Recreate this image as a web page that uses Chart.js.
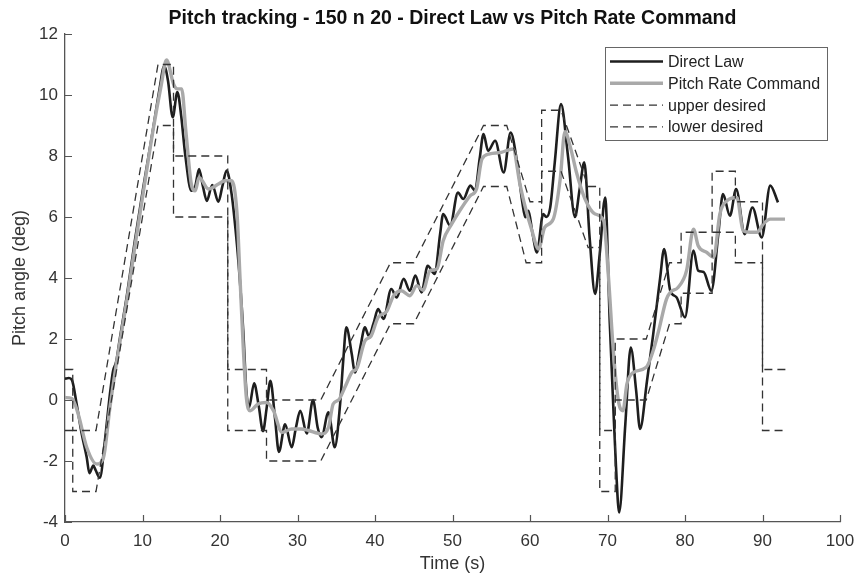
<!DOCTYPE html>
<html>
<head>
<meta charset="utf-8">
<script src="https://cdn.jsdelivr.net/npm/chart.js@4.4.1/dist/chart.umd.min.js"></script>
<style>
html,body{margin:0;padding:0;background:#fff;}
#wrap{width:855px;height:577px;}
</style>
</head>
<body>
<div id="wrap"><canvas id="c" width="855" height="577"></canvas></div>
<script>
// ---- data ----
const dlTime = [0,0.5,0.9,1.5,2.15,2.8,3.15,3.65,3.95,4.5,
  5.15,5.8,6.2,6.6,7.1,8.0,9.0,10.1,11.4,12.2,
  12.8,13.3,13.9,14.5,15.0,15.5,16.3,16.8,17.3,17.8,
  18.3,19.0,19.8,20.3,20.85,21.5,22.0,22.4,23.0,23.4,
  23.75,24.4,25.0,25.55,26.0,26.5,27.1,27.6,28.4,29.25,
  29.8,30.35,31.2,32.0,32.6,33.1,34.0,34.8,35.5,35.9,
  36.3,37.0,37.4,38.1,38.7,39.2,39.8,40.4,41.1,42.1,
  42.8,43.7,44.5,45.2,46.0,46.8,47.7,48.4,48.8,49.7,
  50.7,51.4,52.3,52.9,53.5,54.0,54.6,55.5,56.6,57.5,
  58.3,59.0,59.4,59.8,60.3,60.9,61.7,62.1,62.6,63.2,
  64.0,64.9,65.8,66.4,67.0,67.7,68.4,69.0,69.7,
  70.3,70.75,71.1,71.5,72.3,73.0,73.7,74.2,75.1,75.9,
  76.8,77.3,78.1,78.9,80.0,81.1,81.7,82.4,83.4,84.3,
  84.9,85.8,86.6,87.7,88.7,89.9,91.0,92.0];
const dlPitch = [0.7,0.72,0.65,-0.13,-1.1,-1.88,-2.4,-2.15,-2.3,-2.55,
  -1.33,0.2,0.95,1.25,2.05,3.45,5.2,6.97,8.94,10.2,
  10.95,10.45,9.27,10.1,9.3,8.07,6.86,7.0,7.57,7.0,
  6.53,7.05,6.5,7.0,7.52,6.75,5.6,4.46,2.27,0.3,
  -0.25,0.55,-0.2,-1.02,-0.3,0.63,-0.6,-1.7,-0.8,-1.55,
  -0.9,-0.35,-1.1,0.0,-0.9,-1.22,-0.4,-1.55,-0.13,1.29,
  2.38,1.51,0.9,1.72,2.38,2.1,2.5,2.98,2.66,3.64,
  3.36,3.97,3.58,4.08,3.53,4.4,4.13,5.44,6.1,5.71,
  6.8,6.59,7.03,6.86,7.9,8.72,8.17,8.5,7.46,8.77,
  7.85,6.5,5.99,6.2,5.5,4.84,6.1,6.0,6.3,7.8,
  9.7,8.0,6.0,6.9,7.79,5.3,3.48,4.8,6.64,
  2.49,-0.24,-2.2,-3.69,-0.79,1.72,0.3,-0.95,0.63,2.16,
  4.02,4.95,3.58,3.37,2.71,4.9,4.24,4.2,3.58,5.44,
  6.75,6.04,6.92,5.44,6.31,5.33,7.03,6.48];

const prcTime = [0,0.9,1.7,2.8,4.1,4.95,5.8,6.7,8.0,9.0,
  10.1,11.4,12.4,13.1,14.0,14.5,15.05,15.6,16.3,16.8,
  17.3,18.5,19.8,20.6,21.5,22.2,22.6,23.0,23.4,23.9,
  24.9,26.0,26.9,28.0,29.25,30.5,31.4,33.1,34.0,34.6,
  35.3,36.1,37.0,37.7,38.7,39.5,40.4,41.5,42.4,43.4,
  44.5,45.4,46.2,47.1,48.0,48.8,49.9,51.2,52.3,53.1,
  53.8,54.8,56.3,57.8,58.7,59.4,60.2,61.1,61.9,63.0,
  63.9,64.5,65.2,66.0,67.1,68.4,69.5,70.1,70.75,71.4,
  72.0,72.5,73.3,75.0,75.9,76.6,77.6,78.1,79.1,80.2,
  81.1,81.7,82.8,83.7,84.5,85.4,86.7,87.5,88.4,89.3,
  90.1,91.0,92.9];
const prcPitch = [0.08,0.05,-0.46,-1.55,-2.1,-1.9,-0.24,1.3,3.3,5.0,
  6.8,8.9,10.3,11.15,10.36,10.2,10.2,8.8,7.08,6.86,
  7.3,6.92,7.08,7.19,7.19,6.1,3.91,1.72,0.08,-0.35,
  -0.13,-0.08,-0.35,-1.06,-0.95,-0.95,-1.0,-1.11,-0.9,-0.13,
  0.0,0.41,0.9,1.06,1.94,2.1,2.71,2.9,3.42,3.58,
  3.42,3.75,3.6,4.24,4.3,5.22,5.77,6.31,6.7,6.92,
  7.9,8.07,8.12,8.23,7.08,6.31,5.6,4.95,5.66,5.93,
  7.25,8.8,8.3,7.46,6.59,6.1,5.88,4.13,1.62,-0.02,
  -0.35,0.52,0.9,1.07,1.62,2.27,3.3,3.53,3.69,4.24,
  5.6,5.06,4.84,4.68,6.1,6.53,6.64,5.55,5.5,5.5,
  5.77,5.93,5.93];

const upperTime  = [0,1,1,4,12,14,14,21,21,26,26,33,42,45,54,57,60,61.5,61.5,64,67.5,69,69,71,71,75,78,79.5,79.5,83.5,83.5,86.5,86.5,90,90,93];
const upperPitch = [1,1,-1,-1,11,11,8,8,1,1,0,0,4.5,4.5,9,9,6.5,6.5,9.5,9.5,7,7,-1,-1,2,2,4.5,4.5,5.5,5.5,7.5,7.5,6.5,6.5,1,1];
const lowerTime  = [0,1,1,4,12,14,14,21,21,26,26,33,42,45,54,57,59.5,61.5,61.5,64,67.5,69,69,71,71,75,78,79.5,79.5,83.5,83.5,86.5,86.5,90,90,93];
const lowerPitch = [-1,-1,-3,-3,9,9,6,6,-1,-1,-2,-2,2.5,2.5,7,7,4.5,4.5,7.5,7.5,5,5,-3,-3,0,0,2.5,2.5,3.5,3.5,5.5,5.5,4.5,4.5,-1,-1];

const xTickValues = [0,10,20,30,40,50,60,70,80,90,100];
const yTickValues = [-4,-2,0,2,4,6,8,10,12];

const seriesNames = ['Direct Law','Pitch Rate Command','upper desired','lower desired'];
const titleText = 'Pitch tracking - 150 n 20 - Direct Law vs Pitch Rate Command';

// ---- build ----
const pts = (xs, ys) => xs.map((x, i) => ({x: x, y: ys[i]}));
const FONT = '"Liberation Sans", Arial, Helvetica, sans-serif';
Chart.defaults.font.family = FONT;

const inwardTicks = {
  id: 'inwardTicks',
  afterDraw(chart) {
    const {ctx, chartArea} = chart;
    const xs = chart.scales.x, ys = chart.scales.y;
    ctx.save();
    ctx.strokeStyle = '#555';
    ctx.lineWidth = 1.2;
    ctx.beginPath();
    xTickValues.forEach(v => {
      const p = Math.round(xs.getPixelForValue(v)) + 0.5;
      ctx.moveTo(p, chartArea.bottom);
      ctx.lineTo(p, chartArea.bottom - 7);
    });
    yTickValues.forEach(v => {
      const p = Math.round(ys.getPixelForValue(v)) + 0.5;
      ctx.moveTo(chartArea.left, p);
      ctx.lineTo(chartArea.left + 7, p);
    });
    ctx.stroke();
    ctx.restore();
  }
};

const boxLegend = {
  id: 'boxLegend',
  afterDraw(chart) {
    const {ctx, chartArea} = chart;
    const w = 222, h = 93;
    const x0 = chartArea.right - 235, y0 = chartArea.top + 13;
    ctx.save();
    ctx.fillStyle = '#fff';
    ctx.fillRect(x0, y0, w, h);
    ctx.strokeStyle = '#666';
    ctx.lineWidth = 1;
    ctx.strokeRect(Math.round(x0) + 0.5, Math.round(y0) + 0.5, w, h);
    chart.data.datasets.forEach((ds, i) => {
      const y = y0 + 14.5 + i * 21.8;
      ctx.beginPath();
      ctx.setLineDash(ds.borderDash || []);
      ctx.strokeStyle = ds.borderColor;
      ctx.lineWidth = ds.borderWidth;
      ctx.moveTo(x0 + 5, y);
      ctx.lineTo(x0 + 58, y);
      ctx.stroke();
      ctx.setLineDash([]);
      ctx.fillStyle = '#222';
      ctx.font = '16px ' + FONT;
      ctx.textBaseline = 'middle';
      ctx.textAlign = 'left';
      ctx.fillText(ds.label, x0 + 63, y + 1);
    });
    ctx.restore();
  }
};

new Chart(document.getElementById('c'), {
  type: 'scatter',
  data: {
    datasets: [
      {label: seriesNames[0], data: pts(dlTime, dlPitch), showLine: true, borderColor: '#1e1e1e', borderWidth: 2.6, pointRadius: 0, cubicInterpolationMode: 'monotone', order: 4},
      {label: seriesNames[1], data: pts(prcTime, prcPitch), showLine: true, borderColor: '#a9a9a9', borderWidth: 3.4, pointRadius: 0, cubicInterpolationMode: 'monotone', order: 3},
      {label: seriesNames[2], data: pts(upperTime, upperPitch), showLine: true, borderColor: '#333', borderWidth: 1.3, borderDash: [8, 5], pointRadius: 0, tension: 0, order: 2},
      {label: seriesNames[3], data: pts(lowerTime, lowerPitch), showLine: true, borderColor: '#333', borderWidth: 1.3, borderDash: [8, 5], pointRadius: 0, tension: 0, order: 1}
    ]
  },
  options: {
    responsive: false,
    animation: false,
    devicePixelRatio: 1,
    layout: {padding: {top: 0, right: 15, bottom: 0, left: 0}},
    plugins: {
      legend: {display: false},
      tooltip: {enabled: false},
      title: {
        display: true, text: titleText, fullSize: false,
        color: '#111', font: {size: 19.5, weight: 'bold', family: FONT},
        padding: {top: 7, bottom: 3.6}
      }
    },
    scales: {
      x: {
        type: 'linear', min: 0, max: 100,
        afterBuildTicks: s => { s.ticks = xTickValues.map(v => ({value: v})); },
        afterFit: s => { s.height = 55; s.paddingLeft = 0; s.paddingRight = 0; },
        ticks: {color: '#333', font: {size: 17}, padding: 9, maxRotation: 0},
        grid: {display: false, drawTicks: false},
        border: {display: true, color: '#555', width: 1.3},
        title: {display: true, text: 'Time (s)', color: '#333', font: {size: 18}, padding: {top: 0, bottom: 2}}
      },
      y: {
        type: 'linear', min: -4, max: 12,
        afterBuildTicks: s => { s.ticks = yTickValues.map(v => ({value: v})); },
        afterFit: s => { s.width = 65; },
        ticks: {color: '#333', font: {size: 17}, padding: 7},
        grid: {display: false, drawTicks: false},
        border: {display: true, color: '#555', width: 1.3},
        title: {display: true, text: 'Pitch angle (deg)', color: '#333', font: {size: 18}, padding: {top: 9, bottom: 0}}
      }
    }
  },
  plugins: [inwardTicks, boxLegend]
});
</script>
</body>
</html>
